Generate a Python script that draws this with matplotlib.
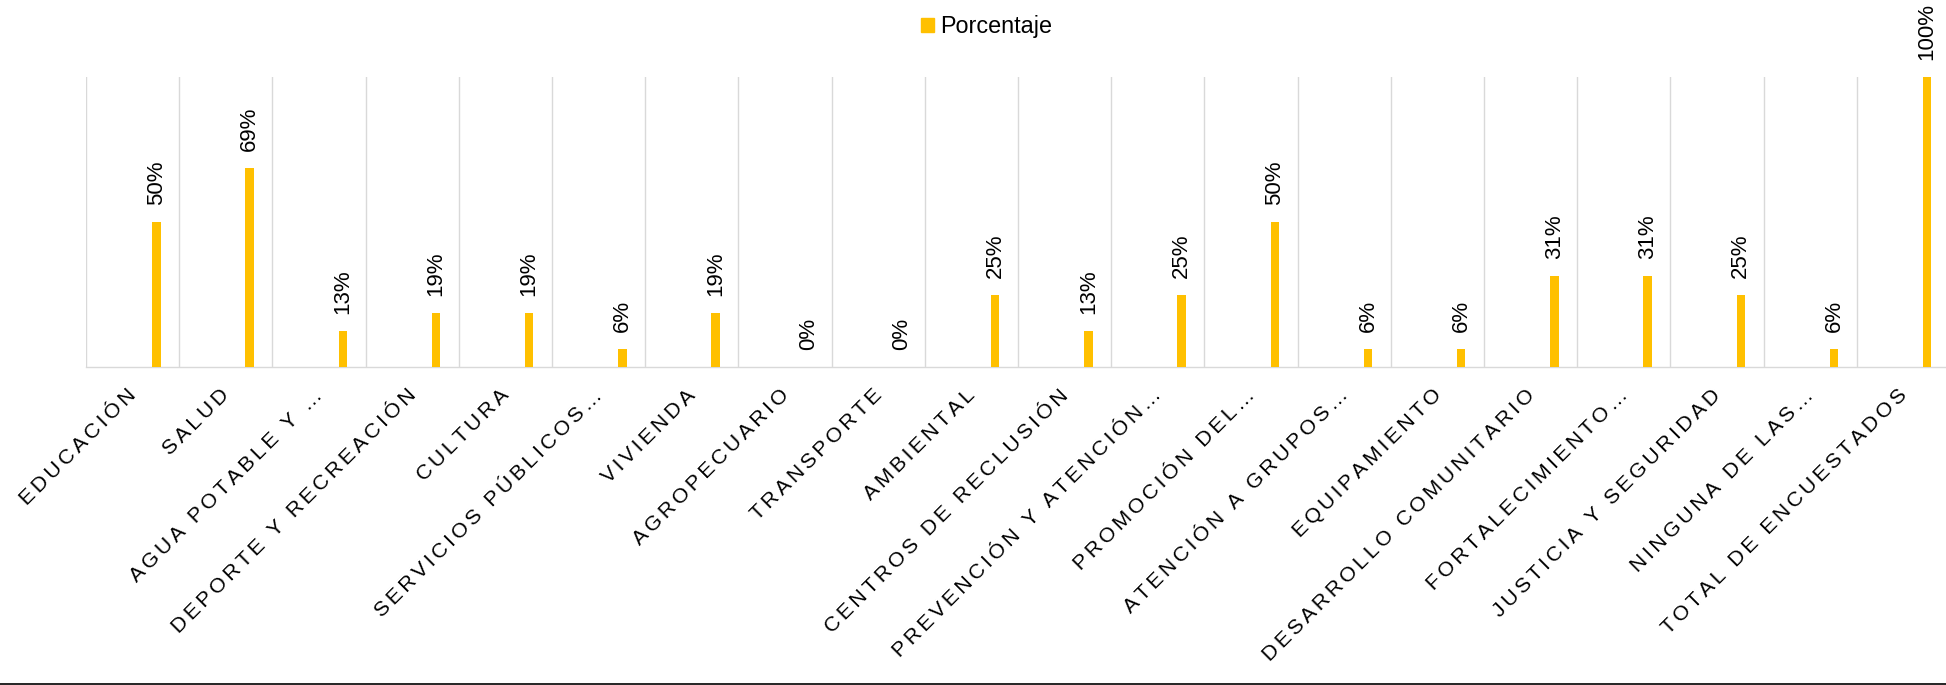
import numpy as np
import matplotlib
matplotlib.use('Agg')
import matplotlib.pyplot as plt
import matplotlib.transforms as mtransforms
from matplotlib.lines import Line2D
from matplotlib.patches import Patch

plt.rcParams['font.family'] = ['Liberation Sans', 'DejaVu Sans']

# Datos (porcentaje de encuestados por sector)
categorias = ['EDUCACIÓN', 'SALUD', 'AGUA POTABLE Y …', 'DEPORTE Y RECREACIÓN',
              'CULTURA', 'SERVICIOS PÚBLICOS…', 'VIVIENDA', 'AGROPECUARIO',
              'TRANSPORTE', 'AMBIENTAL', 'CENTROS DE RECLUSIÓN',
              'PREVENCIÓN Y ATENCIÓN…', 'PROMOCIÓN DEL…', 'ATENCIÓN A GRUPOS…',
              'EQUIPAMIENTO', 'DESARROLLO COMUNITARIO', 'FORTALECIMIENTO…',
              'JUSTICIA Y SEGURIDAD', 'NINGUNA DE LAS…', 'TOTAL DE ENCUESTADOS']
porcentaje = [50, 68.75, 12.5, 18.75, 18.75, 6.25, 18.75, 0, 0, 25,
              12.5, 25, 50, 6.25, 6.25, 31.25, 31.25, 25, 6.25, 100]

W, H = 1946, 685
fig = plt.figure(figsize=(W / 100, H / 100), dpi=100)
ax = fig.add_axes([86 / W, 318 / H, 1864 / W, 290 / H])

n = len(categorias)
x = np.arange(n)
ax.bar(x + 0.255, porcentaje, width=0.089, color='#FFC000', zorder=3)

# lineas verticales entre categorias
for b in np.arange(-0.5, n):
    ax.axvline(b, color='#D9D9D9', lw=1.0, zorder=1)

ax.set_xlim(-0.5, n - 0.5)
ax.set_ylim(0, 100)
for s in ['top', 'left', 'right']:
    ax.spines[s].set_visible(False)
ax.spines['bottom'].set_color('#D9D9D9')
ax.spines['bottom'].set_linewidth(1.0)
ax.set_yticks([])

# espaciado entre letras como en Excel
def espaciar(t):
    return '\u2006'.join(t)

ax.set_xticks(x)
ax.set_xticklabels([espaciar(c) for c in categorias], rotation=45, ha='right',
                   rotation_mode='anchor', fontsize=15.3, color='black')
ax.tick_params(axis='x', length=0, pad=13.4)
desplaza = mtransforms.ScaledTranslation(-6 / 100, 0, fig.dpi_scale_trans)
for lbl in ax.get_xticklabels():
    lbl.set_transform(lbl.get_transform() + desplaza)

# etiquetas de datos
for xi, v in zip(x, porcentaje):
    ax.annotate(f'{int(v + 0.5)}%', (xi + 0.255, v), xytext=(0, 12.2),
                textcoords='offset points', ha='center', va='bottom',
                rotation=90, fontsize=16, color='black', annotation_clip=False)

fig.legend(handles=[Patch(color='#FFC000', label='Porcentaje')],
           loc='center', bbox_to_anchor=(986.5 / W, 1 - 26.5 / H),
           frameon=False, fontsize=16.8, handlelength=0.55, handleheight=0.55,
           handletextpad=0.25)

# linea inferior
fig.add_artist(Line2D([0, 1], [1.5 / H, 1.5 / H], color='black', lw=1.2,
                      transform=fig.transFigure))

fig.savefig('out.png', dpi=100)
